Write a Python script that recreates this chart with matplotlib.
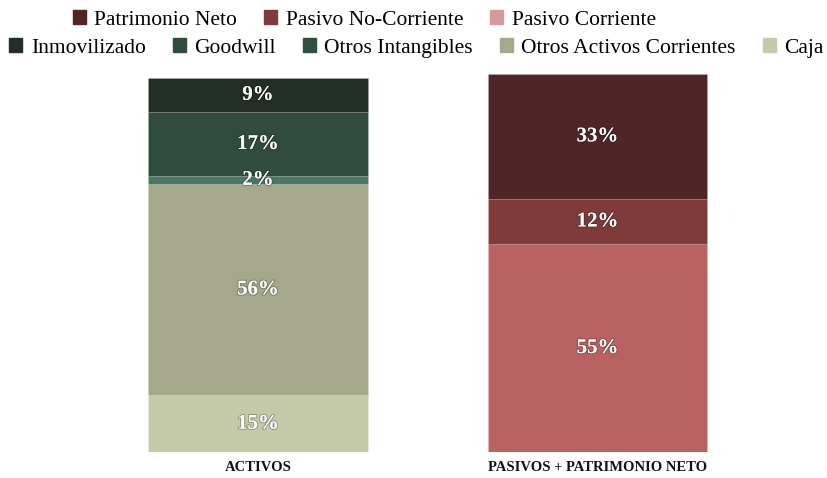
import matplotlib.pyplot as plt
import matplotlib.patheffects as pe
from matplotlib.patches import Patch

plt.rcParams['font.family'] = ['Liberation Serif', 'DejaVu Serif']

bars = ["ACTIVOS", "PASIVOS + PATRIMONIO NETO"]

# activos, bottom to top
activos_names = ["Caja", "Otros Activos Corrientes", "Otros Intangibles", "Goodwill", "Inmovilizado"]
activos_vals = [15, 56, 2, 17, 9]
activos_colors = ["#c5caa9", "#a5a88a", "#4a7862", "#304c3e", "#232e27"]
activos_legend_colors = ["#c5caa9", "#a5a88a", "#2f5040", "#304c3e", "#232e27"]

# pasivos, bottom to top
pasivos_names = ["Pasivo Corriente", "Pasivo No-Corriente", "Patrimonio Neto"]
pasivos_vals = [55, 12, 33]
pasivos_colors = ["#b86362", "#7f3a3a", "#502527"]
pasivos_legend_colors = ["#d79a9b", "#7f3a3a", "#502527"]

fig = plt.figure(figsize=(8.28, 4.78), dpi=100)
ax = fig.add_axes([0, 26 / 478, 1, 378 / 478])

width = 0.648
stroke = [pe.withStroke(linewidth=1.5, foreground=(0, 0, 0, 0.25))]


def draw_stack(x, vals, colors):
    bottom = 0
    for v, c in zip(vals, colors):
        ax.bar(x, v, width=width, bottom=bottom, color=c, edgecolor=(1, 1, 1, 0.12), linewidth=0.6)
        ax.text(x, bottom + v / 2, f"{v}%", ha="center", va="center", color="white",
                fontsize=15, fontweight="bold", path_effects=stroke)
        bottom += v


draw_stack(0, activos_vals, activos_colors)
draw_stack(1, pasivos_vals, pasivos_colors)

ax.set_xlim(-258 / 339.5, (828 - 258) / 339.5)
ax.set_ylim(0, 100)
ax.axis("off")

for i, name in enumerate(bars):
    ax.text(i, -4, name, ha="center", va="center", fontsize=10.5, fontweight="bold", color="#111111")

leg_kw = dict(loc="center", frameon=False, fontsize=15.5, handlelength=0.6, handleheight=0.6,
              handletextpad=0.4, columnspacing=1.25, borderaxespad=0)
h1 = [Patch(color=c) for c in pasivos_legend_colors[::-1]]
fig.legend(h1, pasivos_names[::-1], bbox_to_anchor=(0.44, 1 - 20 / 478), ncol=3, **leg_kw)
h2 = [Patch(color=c) for c in activos_legend_colors[::-1]]
fig.legend(h2, activos_names[::-1], bbox_to_anchor=(0.503, 1 - 48 / 478), ncol=5, **leg_kw)

fig.savefig("out.png", dpi=100)
